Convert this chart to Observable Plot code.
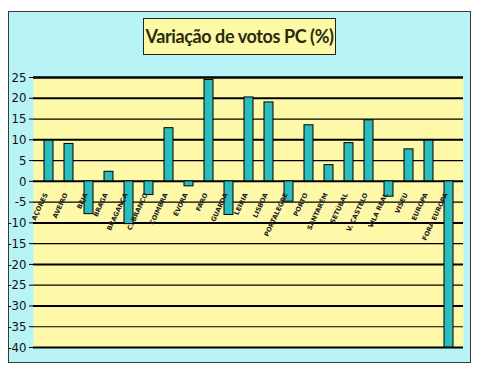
<!DOCTYPE html>
<html><head><meta charset="utf-8">
<script src="https://cdn.jsdelivr.net/npm/d3@7"></script>
<script src="https://cdn.jsdelivr.net/npm/@observablehq/plot@0.6"></script>
<style>
body{margin:0;background:#fff;}
#wrap{position:relative;width:483px;height:369px;overflow:hidden;}
#frame{position:absolute;left:8px;top:11px;width:463px;height:352px;background:#b8f4f6;border:1px solid #3a3a3a;box-sizing:border-box;}
#title{position:absolute;left:143px;top:18px;width:193px;height:37px;box-sizing:border-box;background:#fdfaa6;border:1px solid #222;
 font-family:Lato,"DejaVu Sans",sans-serif;font-size:18px;font-weight:bold;color:#2a2a10;text-align:center;line-height:35px;letter-spacing:-0.4px;}
#chart{position:absolute;left:0;top:0;}
</style></head>
<body><div id="wrap"><div id="frame"></div><div id="title">Variação de votos PC (%)</div><div id="chart"></div></div>
<script>
const categories = ["AÇORES","AVEIRO","BEJA","BRAGA","BRAGANÇA","C. BRANCO","COIMBRA","ÉVORA","FARO","GUARDA","LEIRIA","LISBOA","PORTALEGRE","PORTO","SANTARÉM","SETÚBAL","V. CASTELO","VILA REAL","VISEU","EUROPA","FORA EUROPA"];
const values = [9.8, 9.0, -7.9, 2.3, -10.3, -3.3, 12.8, -1.2, 24.4, -8.1, 20.2, 19.0, -4.9, 13.5, 3.9, 9.2, 14.7, -3.7, 7.7, 9.8, -40];
const yTicks = [25,20,15,10,5,0,-5,-10,-15,-20,-25,-30,-35,-40];

const data = categories.map((c,i)=>({cat:c, v:values[i]}));
const chart = Plot.plot({
  width:483, height:369,
  marginLeft:33, marginRight:20, marginTop:77, marginBottom:22,
  style:{background:"transparent", fontFamily:"'DejaVu Sans Condensed','DejaVu Sans',sans-serif"},
  x:{domain:categories, paddingInner:0.56, paddingOuter:0.24, axis:null},
  y:{domain:[-40,25], ticks:yTicks, label:null},
  marks:[
    Plot.frame({fill:"#fdf9a8", stroke:null}),
    Plot.ruleY(yTicks, {stroke:"#000", strokeWidth:d=> d===25 ? 2.5 : (d%10===0 ? 2 : 1.2)}),
    Plot.ruleX([0], {frameAnchor:"left", y1:-40, y2:25, stroke:"#000", strokeWidth:1.5}),
    Plot.axisY({ticks:yTicks, tickSize:4, tickPadding:3, fontSize:13, stroke:"#000", color:"#111", label:null, tickFormat:d=>String(d)}),
    Plot.barY(data, {x:"cat", y:"v", fill:"#2dbcbc", stroke:"#000", strokeWidth:1, clip:true}),
    Plot.text(data, {x:"cat", y:()=>0, text:"cat", rotate:-65, textAnchor:"end", dx:-3, dy:12,
      fontSize:6.5, fontWeight:"bold", fill:"#222", fontFamily:"'DejaVu Sans',sans-serif"})
  ]
});
document.getElementById("chart").appendChild(chart);
</script></body></html>
